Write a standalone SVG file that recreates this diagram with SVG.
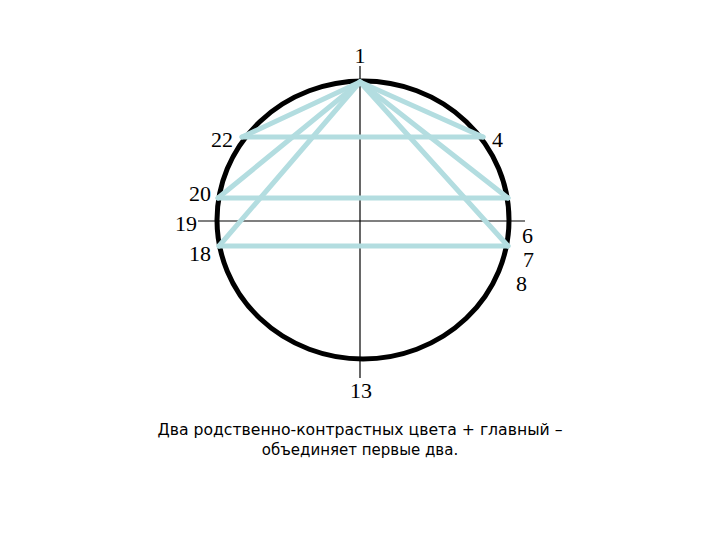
<svg xmlns="http://www.w3.org/2000/svg" width="720" height="540" viewBox="0 0 720 540">
<style>
.ax{stroke:#000;stroke-width:1.2;fill:none}
.c{stroke:#b3dde0;stroke-width:5;stroke-linecap:round;fill:none}
.n{font-family:"Liberation Serif",serif;font-size:22px;fill:#000}
.cap{font-family:"DejaVu Sans",sans-serif;font-size:15px;fill:#000}
</style>
<rect width="720" height="540" fill="#fff"/>
<g id="axes">
<line class="ax" x1="360" y1="66" x2="360" y2="378"/>
<line class="ax" x1="198" y1="221" x2="525" y2="221"/>
</g>
<g id="circle">
<ellipse cx="363" cy="220" rx="146" ry="139" fill="none" stroke="#000" stroke-width="5"/>
</g>
<g id="connectors">
<line class="c" x1="360" y1="82" x2="242" y2="137"/>
<line class="c" x1="360" y1="82" x2="483" y2="137"/>
<line class="c" x1="360" y1="82" x2="218" y2="198"/>
<line class="c" x1="360" y1="82" x2="508" y2="198"/>
<line class="c" x1="360" y1="82" x2="219" y2="246"/>
<line class="c" x1="360" y1="82" x2="508" y2="246"/>
<line class="c" x1="242" y1="137" x2="483" y2="137"/>
<line class="c" x1="218" y1="198" x2="508" y2="198"/>
<line class="c" x1="219" y1="246" x2="508" y2="246"/>
</g>
<g id="labels">
<text class="n" x="360" y="63" text-anchor="middle">1</text>
<text class="n" x="233" y="147" text-anchor="end">22</text>
<text class="n" x="492" y="147">4</text>
<text class="n" x="211" y="201" text-anchor="end">20</text>
<text class="n" x="197" y="231" text-anchor="end">19</text>
<text class="n" x="211" y="261" text-anchor="end">18</text>
<text class="n" x="522" y="243">6</text>
<text class="n" x="523" y="267">7</text>
<text class="n" x="516" y="291">8</text>
<text class="n" x="361" y="398" text-anchor="middle">13</text>
</g>
<g id="caption">
<text class="cap" x="360" y="435" text-anchor="middle" textLength="405" lengthAdjust="spacingAndGlyphs">Два родственно-контрастных цвета + главный –</text>
<text class="cap" x="360" y="455" text-anchor="middle">объединяет первые два.</text>
</g>
</svg>
